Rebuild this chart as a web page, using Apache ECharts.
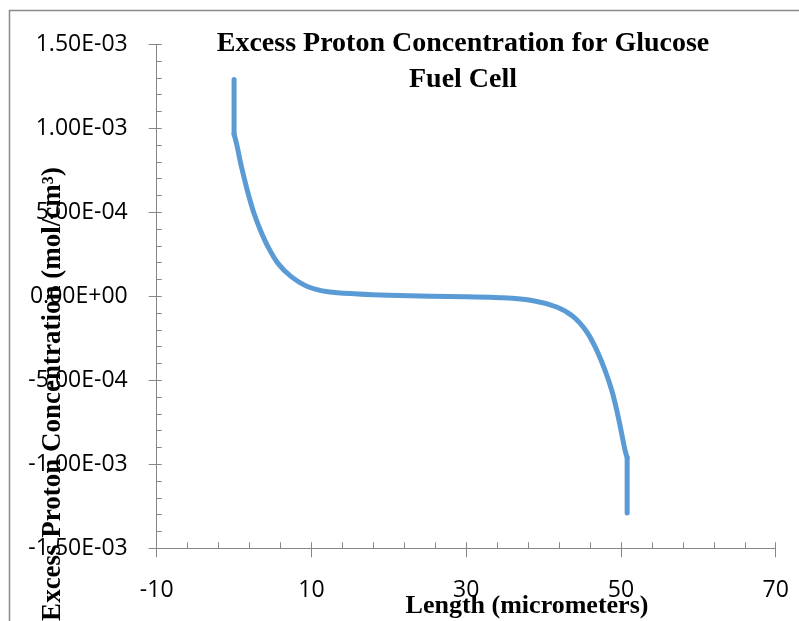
<!DOCTYPE html>
<html>
<head>
<meta charset="utf-8">
<script src="https://cdn.jsdelivr.net/npm/echarts@6/dist/echarts.min.js"></script>
<style>
  html, body { margin: 0; padding: 0; background: #fff; }
  #chart { width: 799px; height: 621px; }
</style>
</head>
<body>
<div id="chart"></div>
<script>
// values (x in micrometers, y in mol/cm3)
const leftWallX = [0, 0]
const leftWallY = [1.29e-3, 0.965e-3]

const curveX = [0, 0.41, 0.85, 1.37, 1.93, 2.57, 3.39, 4.38, 5.67, 7.39, 9.55, 12.14, 16.0, 20.0,
  25.4, 30.0, 34.37, 38.67, 41.69, 43.84, 45.57, 46.86, 47.93, 48.8, 49.45, 50.0, 50.52, 50.8]
const curveY = [0.965e-3, 0.89e-3, 0.792e-3, 0.692e-3, 0.593e-3, 0.494e-3, 0.395e-3, 0.295e-3,
  0.196e-3, 0.117e-3, 0.057e-3, 0.027e-3, 0.014e-3, 0.006e-3, 0, -0.003e-3, -0.008e-3, -0.026e-3,
  -0.064e-3, -0.121e-3, -0.211e-3, -0.32e-3, -0.439e-3, -0.558e-3, -0.677e-3, -0.796e-3,
  -0.915e-3, -0.96e-3]

const rightWallX = [50.8, 50.8]
const rightWallY = [-0.96e-3, -1.29e-3]

const xTickLabels = ['-10', '10', '30', '50', '70']
const yTickLabels = ['-1.50E-03', '-1.00E-03', '-5.00E-04', '0.00E+00', '5.00E-04', '1.00E-03', '1.50E-03']

const xMin = -10, xMax = 70, xStep = 20
const yMin = -1.5e-3, yMax = 1.5e-3, yStep = 5e-4

const titleText = 'Excess Proton Concentration for Glucose\nFuel Cell'
const xName = 'Length (micrometers)'
const yName = 'Excess Proton Concentration (mol/cm³)'

const axisGray = '#868686'
const lineBlue = '#5B9BD5'
const serif = '"Liberation Serif", "Times New Roman", serif'
const sans = '"Open Sans", "Liberation Sans", sans-serif'

const pairs = (xs, ys) => xs.map((x, i) => [x, ys[i]])

function lineSeries(data, smooth) {
  return {
    type: 'line',
    data,
    smooth,
    showSymbol: false,
    silent: true,
    lineStyle: { color: lineBlue, width: 5, cap: 'round', join: 'round' },
  }
}

const chart = echarts.init(document.getElementById('chart'))

chart.setOption({
  animation: false,
  backgroundColor: '#fff',
  grid: { left: 156.7, right: 23.3, top: 44.3, bottom: 72.7 },
  xAxis: [
    {
      type: 'value', position: 'bottom', min: xMin, max: xMax, interval: xStep,
      axisLine: { show: true, onZero: false, lineStyle: { color: axisGray, width: 1 } },
      axisTick: { show: true, inside: true, length: 6, lineStyle: { color: axisGray } },
      minorTick: { show: true, splitNumber: 5, length: 6, lineStyle: { color: axisGray } },
      splitLine: { show: false },
      axisLabel: {
        margin: 31, color: '#000', fontFamily: sans, fontSize: 23,
        formatter: (v) => xTickLabels[Math.round((v - xMin) / xStep)],
      },
    },
    {
      type: 'value', position: 'bottom', min: xMin, max: xMax, interval: xStep,
      axisLine: { show: false, onZero: false },
      axisTick: { show: true, inside: false, length: 9, lineStyle: { color: axisGray } },
      splitLine: { show: false },
      axisLabel: { show: false },
    },
  ],
  yAxis: [
    {
      type: 'value', position: 'left', min: yMin, max: yMax, interval: yStep,
      axisLine: { show: true, onZero: false, lineStyle: { color: axisGray, width: 1 } },
      axisTick: { show: true, inside: true, length: 5, lineStyle: { color: axisGray } },
      minorTick: { show: true, splitNumber: 5, length: 5, lineStyle: { color: axisGray } },
      splitLine: { show: false },
      axisLabel: {
        margin: 29, color: '#000', fontFamily: sans, fontSize: 23,
        formatter: (v) => yTickLabels[Math.round((v - yMin) / yStep)],
      },
    },
    {
      type: 'value', position: 'left', min: yMin, max: yMax, interval: yStep,
      axisLine: { show: false, onZero: false },
      axisTick: { show: true, inside: false, length: 8, lineStyle: { color: axisGray } },
      splitLine: { show: false },
      axisLabel: { show: false },
    },
  ],
  series: [
    lineSeries(pairs(leftWallX, leftWallY), false),
    lineSeries(pairs(curveX, curveY), 0.35),
    lineSeries(pairs(rightWallX, rightWallY), false),
  ],
  graphic: [
    {
      type: 'rect', silent: true, z: -1,
      shape: { x: 9.5, y: 10.5, width: 900, height: 700 },
      style: { fill: null, stroke: '#8a8a8a', lineWidth: 1.5 },
    },
    {
      type: 'text', silent: true, x: 463, y: 26, z: 10,
      style: {
        text: titleText, align: 'center', verticalAlign: 'top', lineHeight: 36,
        fontFamily: serif, fontWeight: 'bold', fontSize: 28, fill: '#000',
      },
    },
    {
      type: 'text', silent: true, x: 527, y: 606, z: 10,
      style: {
        text: xName, align: 'center', verticalAlign: 'middle',
        fontFamily: serif, fontWeight: 'bold', fontSize: 26, fill: '#000',
      },
    },
    {
      type: 'text', silent: true, x: 53, y: 394, rotation: Math.PI / 2, z: 10,
      style: {
        text: yName, align: 'center', verticalAlign: 'middle',
        fontFamily: serif, fontWeight: 'bold', fontSize: 27, fill: '#000',
      },
    },
  ],
})
</script>
</body>
</html>
